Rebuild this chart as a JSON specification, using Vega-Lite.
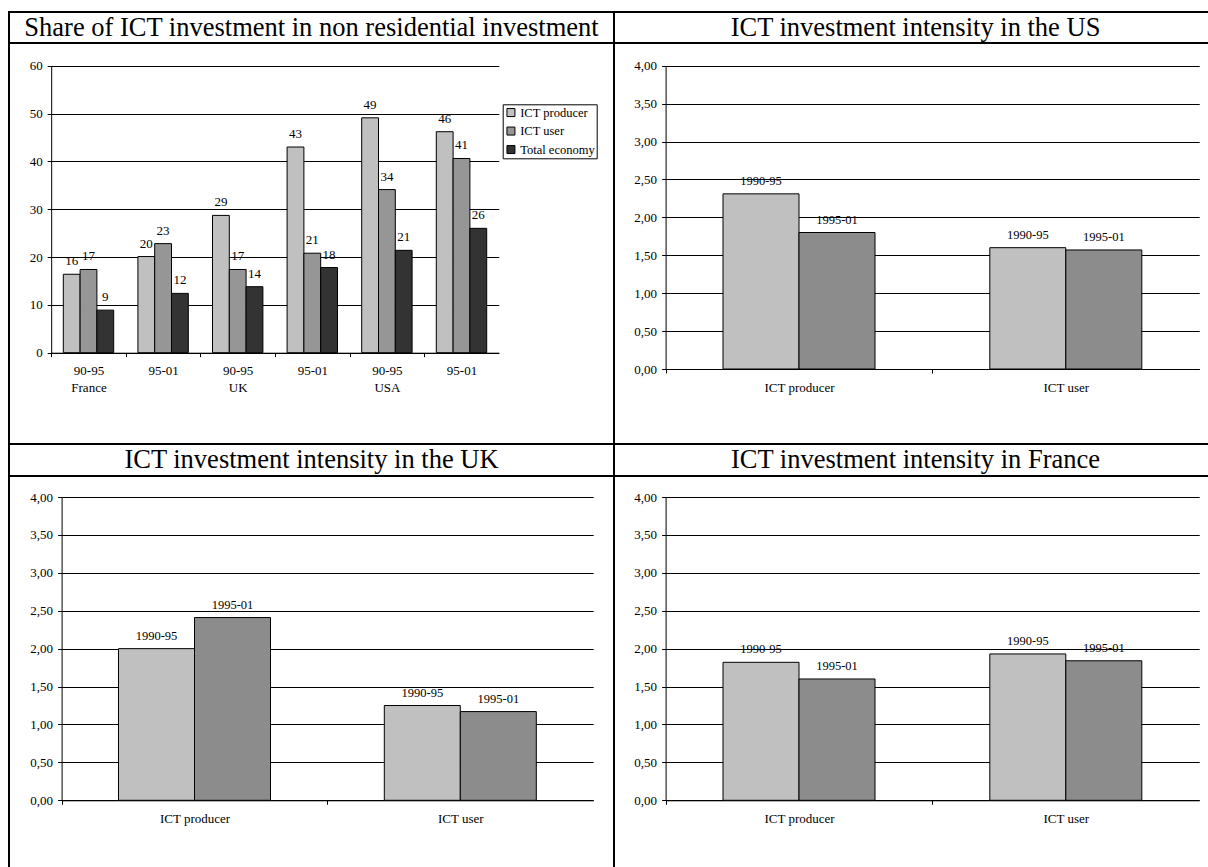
{
  "$schema": "https://vega.github.io/schema/vega-lite/v6.json",
  "padding": {"left": 8, "top": 11, "right": 0, "bottom": 0},
  "autosize": {"type": "pad"},
  "background": "#ffffff",
  "config": {
    "font": "Liberation Serif",
    "view": {"stroke": "#000000", "strokeWidth": 2},
    "axis": {
      "labelFont": "Liberation Serif", "labelColor": "#000000", "labelFontSize": 13,
      "domainColor": "#000000", "tickColor": "#000000", "gridColor": "#000000",
      "domainWidth": 1, "tickWidth": 1, "gridWidth": 1, "gridOpacity": 1
    },
    "legend": {"labelFont": "Liberation Serif", "labelColor": "#000000"},
    "text": {"font": "Liberation Serif", "color": "#000000"}
  },
  "datasets": {
    "share": [
      {"group": "France 90-95", "series": "ICT producer", "value": 16.4},
      {"group": "France 90-95", "series": "ICT user", "value": 17.4},
      {"group": "France 90-95", "series": "Total economy", "value": 8.9},
      {"group": "France 95-01", "series": "ICT producer", "value": 20.1},
      {"group": "France 95-01", "series": "ICT user", "value": 22.8},
      {"group": "France 95-01", "series": "Total economy", "value": 12.4},
      {"group": "UK 90-95", "series": "ICT producer", "value": 28.7},
      {"group": "UK 90-95", "series": "ICT user", "value": 17.4},
      {"group": "UK 90-95", "series": "Total economy", "value": 13.8},
      {"group": "UK 95-01", "series": "ICT producer", "value": 43.0},
      {"group": "UK 95-01", "series": "ICT user", "value": 20.8},
      {"group": "UK 95-01", "series": "Total economy", "value": 17.8},
      {"group": "USA 90-95", "series": "ICT producer", "value": 49.1},
      {"group": "USA 90-95", "series": "ICT user", "value": 34.1},
      {"group": "USA 90-95", "series": "Total economy", "value": 21.4},
      {"group": "USA 95-01", "series": "ICT producer", "value": 46.2},
      {"group": "USA 95-01", "series": "ICT user", "value": 40.6},
      {"group": "USA 95-01", "series": "Total economy", "value": 26.0}
    ],
    "us": [
      {"sector": "ICT producer", "period": "1990-95", "value": 2.31},
      {"sector": "ICT producer", "period": "1995-01", "value": 1.80},
      {"sector": "ICT user", "period": "1990-95", "value": 1.60},
      {"sector": "ICT user", "period": "1995-01", "value": 1.57}
    ],
    "uk": [
      {"sector": "ICT producer", "period": "1990-95", "value": 2.00},
      {"sector": "ICT producer", "period": "1995-01", "value": 2.41},
      {"sector": "ICT user", "period": "1990-95", "value": 1.25},
      {"sector": "ICT user", "period": "1995-01", "value": 1.17}
    ],
    "fr": [
      {"sector": "ICT producer", "period": "1990-95", "value": 1.82},
      {"sector": "ICT producer", "period": "1995-01", "value": 1.60},
      {"sector": "ICT user", "period": "1990-95", "value": 1.93},
      {"sector": "ICT user", "period": "1995-01", "value": 1.84}
    ]
  },
  "columns": 2,
  "spacing": 0,
  "bounds": "flush",
  "resolve": {"scale": {"color": "independent"}, "legend": {"color": "independent"}},
  "concat": [
    {
      "width": 605, "height": 31,
      "data": {"values": [{"t": "Share of ICT investment in non residential investment"}]},
      "mark": {"type": "text", "fontSize": 26.5, "align": "center", "baseline": "middle", "fill": "#000000"},
      "encoding": {
        "x": {"field": "t", "type": "nominal", "axis": null},
        "y": {"field": "t", "type": "nominal", "axis": null},
        "text": {"field": "t", "type": "nominal"}
      }
    },
    {
      "width": 595, "height": 31,
      "data": {"values": [{"t": "ICT investment intensity in the US"}]},
      "mark": {"type": "text", "fontSize": 26.5, "align": "center", "baseline": "middle", "dx": 4, "fill": "#000000"},
      "encoding": {
        "x": {"field": "t", "type": "nominal", "axis": null},
        "y": {"field": "t", "type": "nominal", "axis": null},
        "text": {"field": "t", "type": "nominal"}
      }
    },
    {
      "width": 605, "height": 401,
      "data": {"name": "share"},
      "encoding": {
        "x": {
          "field": "group", "type": "nominal", "sort": null,
          "scale": {"range": [42.2, 489.8], "paddingInner": 0, "paddingOuter": 0},
          "axis": {
            "title": null, "orient": "bottom", "offset": -91.3, "tickSize": 4,
            "tickOffset": -37.3, "labelOffset": 37.3,
            "labelPadding": 8, "labelAngle": 0, "labelLineHeight": 17, "grid": false,
            "labelExpr": "datum.value == 'France 90-95' ? ['90-95', 'France'] : datum.value == 'UK 90-95' ? ['90-95', 'UK'] : datum.value == 'USA 90-95' ? ['90-95', 'USA'] : slice(datum.value, -5)"
          }
        },
        "y": {
          "field": "value", "type": "quantitative",
          "scale": {"domain": [0, 60], "range": [309.7, 22.7], "nice": false, "zero": true},
          "axis": {"title": null, "offset": -42.2, "values": [0, 10, 20, 30, 40, 50, 60], "grid": true, "tickSize": 4, "labelPadding": 5}
        }
      },
      "layer": [
        {
          "transform": [{"filter": "datum.series == 'ICT producer'"}],
          "mark": {"type": "bar", "width": 16.8, "xOffset": -16.8, "stroke": "#000000", "strokeWidth": 1},
          "encoding": {
            "color": {
              "field": "series", "type": "nominal",
              "scale": {"domain": ["ICT producer", "ICT user", "Total economy"], "range": ["#C0C0C0", "#969696", "#333333"]},
              "legend": {
                "orient": "none", "legendX": 493.7, "legendY": 61.3, "title": null,
                "strokeColor": "#000000", "fillColor": "#ffffff", "padding": 2,
                "symbolType": "square", "symbolSize": 64, "symbolStrokeColor": "#000000", "symbolStrokeWidth": 1,
                "labelFontSize": 12.5, "labelOffset": 3, "rowPadding": 5.5
              }
            }
          }
        },
        {
          "transform": [{"filter": "datum.series == 'ICT user'"}],
          "mark": {"type": "bar", "width": 16.8, "xOffset": 0, "stroke": "#000000", "strokeWidth": 1},
          "encoding": {
            "color": {
              "field": "series", "type": "nominal",
              "scale": {"domain": ["ICT producer", "ICT user", "Total economy"], "range": ["#C0C0C0", "#969696", "#333333"]},
              "legend": {
                "orient": "none", "legendX": 493.7, "legendY": 61.3, "title": null,
                "strokeColor": "#000000", "fillColor": "#ffffff", "padding": 2,
                "symbolType": "square", "symbolSize": 64, "symbolStrokeColor": "#000000", "symbolStrokeWidth": 1,
                "labelFontSize": 12.5, "labelOffset": 3, "rowPadding": 5.5
              }
            }
          }
        },
        {
          "transform": [{"filter": "datum.series == 'Total economy'"}],
          "mark": {"type": "bar", "width": 16.8, "xOffset": 16.8, "stroke": "#000000", "strokeWidth": 1},
          "encoding": {
            "color": {
              "field": "series", "type": "nominal",
              "scale": {"domain": ["ICT producer", "ICT user", "Total economy"], "range": ["#C0C0C0", "#969696", "#333333"]},
              "legend": {
                "orient": "none", "legendX": 493.7, "legendY": 61.3, "title": null,
                "strokeColor": "#000000", "fillColor": "#ffffff", "padding": 2,
                "symbolType": "square", "symbolSize": 64, "symbolStrokeColor": "#000000", "symbolStrokeWidth": 1,
                "labelFontSize": 12.5, "labelOffset": 3, "rowPadding": 5.5
              }
            }
          }
        },
        {
          "transform": [{"filter": "datum.series == 'ICT producer'"}],
          "mark": {"type": "text", "baseline": "bottom", "dy": -6, "dx": -16.8, "fontSize": 13, "fill": "#000000"},
          "encoding": {"text": {"field": "value", "type": "quantitative", "format": ".0f"}}
        },
        {
          "transform": [{"filter": "datum.series == 'ICT user'"}],
          "mark": {"type": "text", "baseline": "bottom", "dy": -6, "dx": 0, "fontSize": 13, "fill": "#000000"},
          "encoding": {"text": {"field": "value", "type": "quantitative", "format": ".0f"}}
        },
        {
          "transform": [{"filter": "datum.series == 'Total economy'"}],
          "mark": {"type": "text", "baseline": "bottom", "dy": -6, "dx": 16.8, "fontSize": 13, "fill": "#000000"},
          "encoding": {"text": {"field": "value", "type": "quantitative", "format": ".0f"}}
        }
      ]
    },
    {
      "width": 595, "height": 401,
      "data": {"name": "us"},
      "encoding": {
        "x": {
          "field": "sector", "type": "nominal", "sort": null,
          "scale": {"range": [51.6, 585.2], "paddingInner": 0, "paddingOuter": 0},
          "axis": {"title": null, "orient": "bottom", "offset": -75, "tickSize": 4, "tickOffset": -133.4, "labelOffset": 133.4, "labelPadding": 8, "labelAngle": 0, "grid": false}
        },
        "y": {
          "field": "value", "type": "quantitative",
          "scale": {"domain": [0, 4], "range": [326, 22.7], "nice": false},
          "axis": {"title": null, "offset": -51.6, "values": [0, 0.5, 1, 1.5, 2, 2.5, 3, 3.5, 4], "grid": true, "tickSize": 4, "labelPadding": 5, "labelExpr": "replace(format(datum.value, '.2f'), '.', ',')"}
        }
      },
      "layer": [
        {
          "transform": [{"filter": "datum.period == '1990-95'"}],
          "mark": {"type": "bar", "width": 76, "xOffset": -38, "stroke": "#000000", "strokeWidth": 1},
          "encoding": {"color": {"field": "period", "type": "nominal", "scale": {"domain": ["1990-95", "1995-01"], "range": ["#C0C0C0", "#8C8C8C"]}, "legend": null}}
        },
        {
          "transform": [{"filter": "datum.period == '1995-01'"}],
          "mark": {"type": "bar", "width": 76, "xOffset": 38, "stroke": "#000000", "strokeWidth": 1},
          "encoding": {"color": {"field": "period", "type": "nominal", "scale": {"domain": ["1990-95", "1995-01"], "range": ["#C0C0C0", "#8C8C8C"]}, "legend": null}}
        },
        {
          "transform": [{"filter": "datum.period == '1990-95'"}],
          "mark": {"type": "text", "baseline": "bottom", "dy": -6, "dx": -38, "fontSize": 12.5, "fill": "#000000"},
          "encoding": {"text": {"field": "period", "type": "nominal"}}
        },
        {
          "transform": [{"filter": "datum.period == '1995-01'"}],
          "mark": {"type": "text", "baseline": "bottom", "dy": -6, "dx": 38, "fontSize": 12.5, "fill": "#000000"},
          "encoding": {"text": {"field": "period", "type": "nominal"}}
        }
      ]
    },
    {
      "width": 605, "height": 32,
      "data": {"values": [{"t": "ICT investment intensity in the UK"}]},
      "mark": {"type": "text", "fontSize": 26.5, "align": "center", "baseline": "middle", "fill": "#000000"},
      "encoding": {
        "x": {"field": "t", "type": "nominal", "axis": null},
        "y": {"field": "t", "type": "nominal", "axis": null},
        "text": {"field": "t", "type": "nominal"}
      }
    },
    {
      "width": 595, "height": 32,
      "data": {"values": [{"t": "ICT investment intensity in France"}]},
      "mark": {"type": "text", "fontSize": 26.5, "align": "center", "baseline": "middle", "dx": 4, "fill": "#000000"},
      "encoding": {
        "x": {"field": "t", "type": "nominal", "axis": null},
        "y": {"field": "t", "type": "nominal", "axis": null},
        "text": {"field": "t", "type": "nominal"}
      }
    },
    {
      "width": 605, "height": 392,
      "data": {"name": "uk"},
      "encoding": {
        "x": {
          "field": "sector", "type": "nominal", "sort": null,
          "scale": {"range": [52.6, 584.2], "paddingInner": 0, "paddingOuter": 0},
          "axis": {"title": null, "orient": "bottom", "offset": -67.7, "tickSize": 4, "tickOffset": -132.9, "labelOffset": 132.9, "labelPadding": 8, "labelAngle": 0, "grid": false}
        },
        "y": {
          "field": "value", "type": "quantitative",
          "scale": {"domain": [0, 4], "range": [324.3, 21], "nice": false},
          "axis": {"title": null, "offset": -52.6, "values": [0, 0.5, 1, 1.5, 2, 2.5, 3, 3.5, 4], "grid": true, "tickSize": 4, "labelPadding": 5, "labelExpr": "replace(format(datum.value, '.2f'), '.', ',')"}
        }
      },
      "layer": [
        {
          "transform": [{"filter": "datum.period == '1990-95'"}],
          "mark": {"type": "bar", "width": 76, "xOffset": -38, "stroke": "#000000", "strokeWidth": 1},
          "encoding": {"color": {"field": "period", "type": "nominal", "scale": {"domain": ["1990-95", "1995-01"], "range": ["#C0C0C0", "#8C8C8C"]}, "legend": null}}
        },
        {
          "transform": [{"filter": "datum.period == '1995-01'"}],
          "mark": {"type": "bar", "width": 76, "xOffset": 38, "stroke": "#000000", "strokeWidth": 1},
          "encoding": {"color": {"field": "period", "type": "nominal", "scale": {"domain": ["1990-95", "1995-01"], "range": ["#C0C0C0", "#8C8C8C"]}, "legend": null}}
        },
        {
          "transform": [{"filter": "datum.period == '1990-95'"}],
          "mark": {"type": "text", "baseline": "bottom", "dy": -6, "dx": -38, "fontSize": 12.5, "fill": "#000000"},
          "encoding": {"text": {"field": "period", "type": "nominal"}}
        },
        {
          "transform": [{"filter": "datum.period == '1995-01'"}],
          "mark": {"type": "text", "baseline": "bottom", "dy": -6, "dx": 38, "fontSize": 12.5, "fill": "#000000"},
          "encoding": {"text": {"field": "period", "type": "nominal"}}
        }
      ]
    },
    {
      "width": 595, "height": 392,
      "data": {"name": "fr"},
      "encoding": {
        "x": {
          "field": "sector", "type": "nominal", "sort": null,
          "scale": {"range": [51.6, 585.2], "paddingInner": 0, "paddingOuter": 0},
          "axis": {"title": null, "orient": "bottom", "offset": -67.7, "tickSize": 4, "tickOffset": -133.4, "labelOffset": 133.4, "labelPadding": 8, "labelAngle": 0, "grid": false}
        },
        "y": {
          "field": "value", "type": "quantitative",
          "scale": {"domain": [0, 4], "range": [324.3, 21], "nice": false},
          "axis": {"title": null, "offset": -51.6, "values": [0, 0.5, 1, 1.5, 2, 2.5, 3, 3.5, 4], "grid": true, "tickSize": 4, "labelPadding": 5, "labelExpr": "replace(format(datum.value, '.2f'), '.', ',')"}
        }
      },
      "layer": [
        {
          "transform": [{"filter": "datum.period == '1990-95'"}],
          "mark": {"type": "bar", "width": 76, "xOffset": -38, "stroke": "#000000", "strokeWidth": 1},
          "encoding": {"color": {"field": "period", "type": "nominal", "scale": {"domain": ["1990-95", "1995-01"], "range": ["#C0C0C0", "#8C8C8C"]}, "legend": null}}
        },
        {
          "transform": [{"filter": "datum.period == '1995-01'"}],
          "mark": {"type": "bar", "width": 76, "xOffset": 38, "stroke": "#000000", "strokeWidth": 1},
          "encoding": {"color": {"field": "period", "type": "nominal", "scale": {"domain": ["1990-95", "1995-01"], "range": ["#C0C0C0", "#8C8C8C"]}, "legend": null}}
        },
        {
          "transform": [{"filter": "datum.period == '1990-95'"}],
          "mark": {"type": "text", "baseline": "bottom", "dy": -6, "dx": -38, "fontSize": 12.5, "fill": "#000000"},
          "encoding": {"text": {"field": "period", "type": "nominal"}}
        },
        {
          "transform": [{"filter": "datum.period == '1995-01'"}],
          "mark": {"type": "text", "baseline": "bottom", "dy": -6, "dx": 38, "fontSize": 12.5, "fill": "#000000"},
          "encoding": {"text": {"field": "period", "type": "nominal"}}
        }
      ]
    }
  ]
}
